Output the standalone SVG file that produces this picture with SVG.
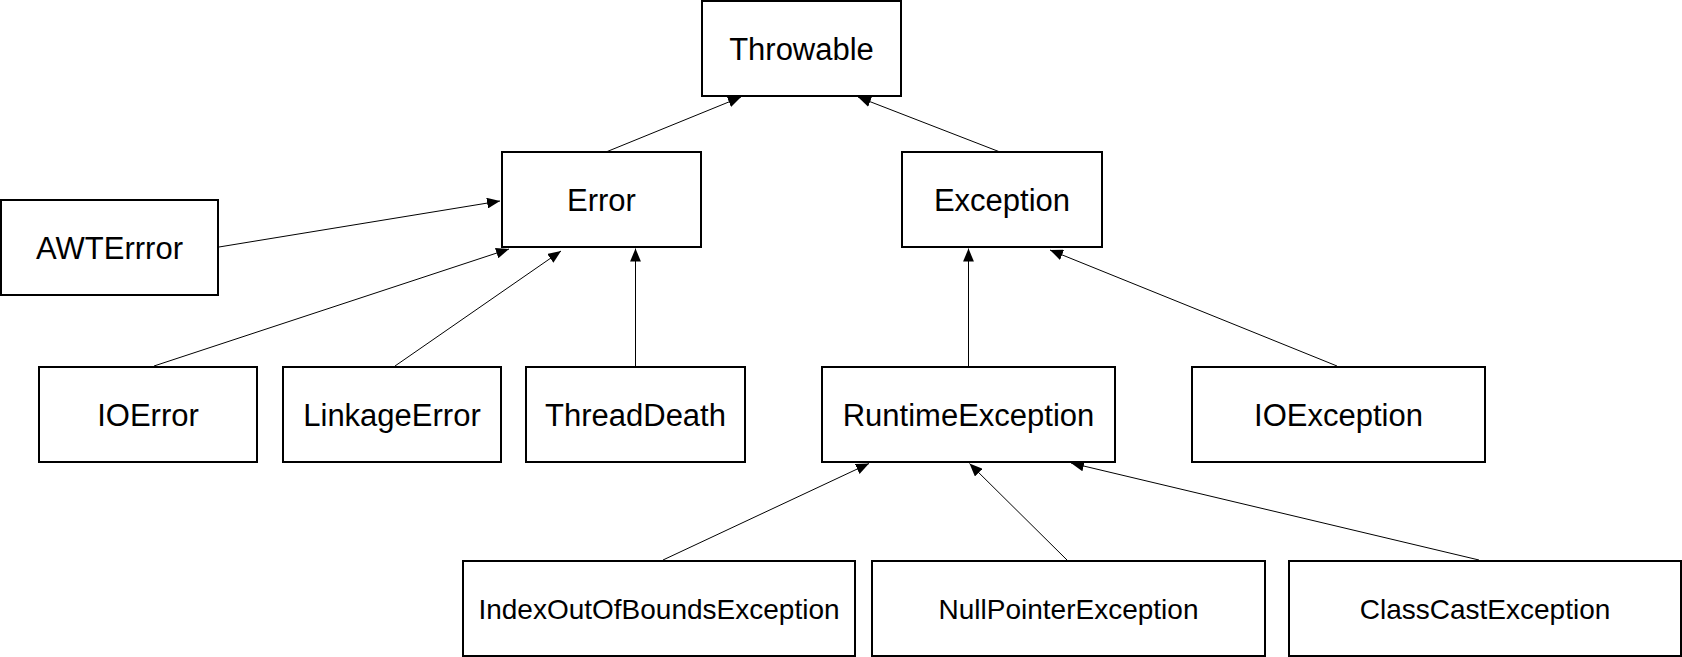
<svg xmlns="http://www.w3.org/2000/svg" width="1682" height="657" viewBox="0 0 1682 657">
<style>
.box{fill:#fff;stroke:#000;stroke-width:2}
.lbl{font-family:"Liberation Sans",Arial,sans-serif;font-size:31px;fill:#000;text-anchor:middle}
.sm{font-size:28px}
.edge{stroke:#000;stroke-width:1;fill:none;marker-end:url(#arr)}
</style>
<defs>
<marker id="arr" markerUnits="userSpaceOnUse" markerWidth="13" markerHeight="11" refX="12" refY="5" orient="auto" viewBox="0 0 12 10">
<path d="M0,0 L12,5 L0,10 z" fill="#000"/>
</marker>
</defs>
<rect width="1682" height="657" fill="#fff"/>
<g id="connectors">
<line class="edge" x1="606" y1="152" x2="741" y2="97"/>
<line class="edge" x1="1000" y1="152" x2="858" y2="97"/>
<line class="edge" x1="219" y1="247" x2="500" y2="201"/>
<line class="edge" x1="154" y1="366" x2="509" y2="249"/>
<line class="edge" x1="395" y1="366" x2="561" y2="251"/>
<line class="edge" x1="635.5" y1="366" x2="635.5" y2="248.5"/>
<line class="edge" x1="968.5" y1="366" x2="968.5" y2="248.5"/>
<line class="edge" x1="1337" y1="366" x2="1050" y2="250"/>
<line class="edge" x1="663" y1="560" x2="869" y2="463.5"/>
<line class="edge" x1="1067" y1="560" x2="969.5" y2="463.5"/>
<line class="edge" x1="1479" y1="560" x2="1071" y2="463"/>
</g>
<g id="Throwable"><rect class="box" x="702" y="1" width="199" height="95"/><text class="lbl" x="801.5" y="60">Throwable</text></g>
<g id="Error"><rect class="box" x="502" y="152" width="199" height="95"/><text class="lbl" x="601.5" y="211">Error</text></g>
<g id="Exception"><rect class="box" x="902" y="152" width="200" height="95"/><text class="lbl" x="1002" y="211">Exception</text></g>
<g id="AWTErrror"><rect class="box" x="1" y="200" width="217" height="95"/><text class="lbl" x="109.5" y="259">AWTErrror</text></g>
<g id="IOError"><rect class="box" x="39" y="367" width="218" height="95"/><text class="lbl" x="148" y="426">IOError</text></g>
<g id="LinkageError"><rect class="box" x="283" y="367" width="218" height="95"/><text class="lbl" x="392" y="426">LinkageError</text></g>
<g id="ThreadDeath"><rect class="box" x="526" y="367" width="219" height="95"/><text class="lbl" x="635.5" y="426">ThreadDeath</text></g>
<g id="RuntimeException"><rect class="box" x="822" y="367" width="293" height="95"/><text class="lbl" x="968.5" y="426">RuntimeException</text></g>
<g id="IOException"><rect class="box" x="1192" y="367" width="293" height="95"/><text class="lbl" x="1338.5" y="426">IOException</text></g>
<g id="IndexOutOfBoundsException"><rect class="box" x="463" y="561" width="392" height="95"/><text class="lbl sm" x="659" y="618.5">IndexOutOfBoundsException</text></g>
<g id="NullPointerException"><rect class="box" x="872" y="561" width="393" height="95"/><text class="lbl sm" x="1068.5" y="618.5">NullPointerException</text></g>
<g id="ClassCastException"><rect class="box" x="1289" y="561" width="392" height="95"/><text class="lbl sm" x="1485" y="618.5">ClassCastException</text></g>
</svg>
